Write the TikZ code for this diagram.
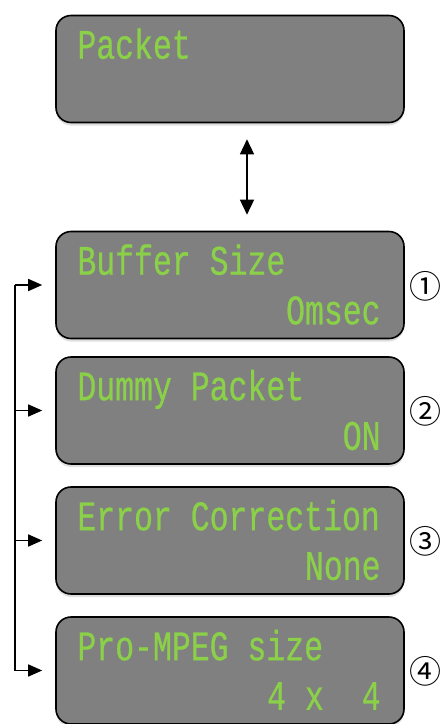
\documentclass[tikz,border=0pt]{standalone}
\usepackage{fontspec}
\usetikzlibrary{arrows.meta,shadows}
\newfontfamily\lcdfont[FakeStretch=0.75,FakeBold=0.6]{Liberation Mono}
\newfontfamily\numfont{Noto Sans CJK JP}
\definecolor{lcdgreen}{RGB}{138,208,72}
\definecolor{lcdgray}{RGB}{128,128,128}
\tikzset{
  lcd/.style={draw=black, line width=1.6pt, fill=lcdgray, rounded corners=15pt,
    minimum width=348pt, minimum height=107pt,
    drop shadow={shadow xshift=0pt, shadow yshift=-3pt, opacity=.25}},
  lcdtext/.style={text=lcdgreen, inner sep=0pt, font=\lcdfont\fontsize{42}{42}\selectfont},
  numtext/.style={font=\numfont\fontsize{32}{32}\selectfont, inner sep=0pt},
}
\begin{document}
\begin{tikzpicture}[x=1pt,y=-1pt]
    \useasboundingbox (0,0) rectangle (441,724);
    \coordinate (bus) at (15,285);
    \coordinate (busend) at (15,670.5);
    \node[lcd] (pkt) at (230,69) {};
    \node[lcdtext, anchor=base west] (pkt-top) at ([xshift=22pt,yshift=-44pt]pkt.north west) {Packet};
    \draw[line width=1.5pt] (bus) -- (busend);
    \foreach \n/\y/\a/\b/\c in {buf/285/Buffer Size/Omsec/①, dum/410.5/Dummy Packet/ON/②,
        fec/540.5/Error Correction/None/③, pro/670.5/Pro-MPEG size/4~x~~4/④}
    {
    \node[lcd] (\n) at (230,\y) {};
    \node[lcdtext, anchor=base west] (\n-top) at ([xshift=22pt,yshift=-44pt]\n.north west) {\a};
    \node[lcdtext, anchor=base east] (\n-val) at ([xshift=-24pt,yshift=15pt]\n.south east) {\b};
    \node[numtext] (\n-num) at ([xshift=21pt,yshift=-1pt]\n.east) {\c};
    \draw[line width=1.5pt, -{Triangle[length=14pt,width=12pt]}, shorten >=13pt] (\n.west -| bus) -- (\n.west);
    }
    \draw[line width=1.5pt, {Triangle[length=15pt,width=14pt]}-{Triangle[length=15pt,width=14pt]}]
        ([xshift=17pt,yshift=-16pt]pkt.south) -- ([xshift=17pt,yshift=16pt]buf.north);
\end{tikzpicture}
\end{document}
